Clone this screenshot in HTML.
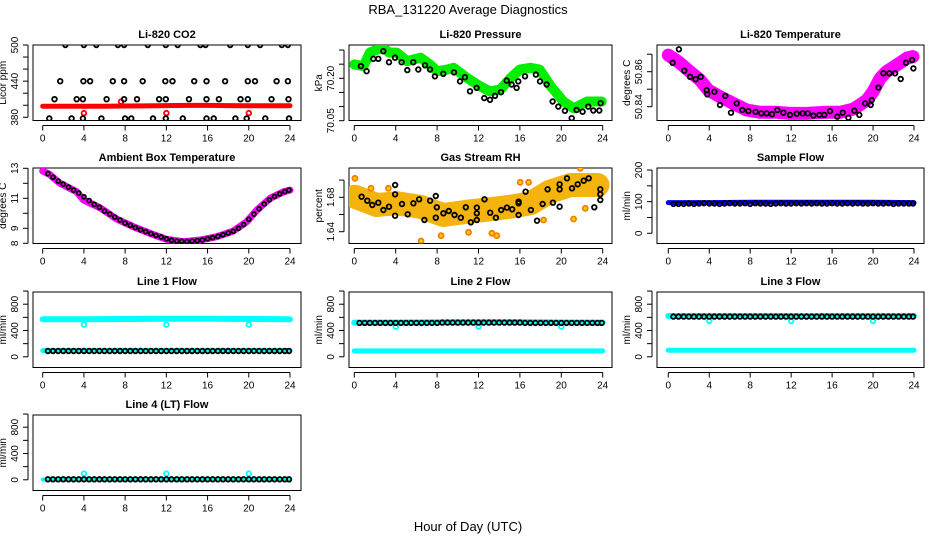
<!DOCTYPE html>
<html><head><meta charset="utf-8"><style>
html,body{margin:0;padding:0;background:#fff;}
svg{display:block;font-family:"Liberation Sans",Arial,sans-serif;}
</style></head><body>
<svg id="chart" width="936" height="540" viewBox="0 0 936 540" xmlns="http://www.w3.org/2000/svg">
<rect x="0" y="0" width="936" height="540" fill="#fff"/>
<text x="468" y="14" text-anchor="middle" font-size="13">RBA_131220  Average Diagnostics</text>
<text x="468" y="531" text-anchor="middle" font-size="13">Hour of Day (UTC)</text>
</svg>
<script>
// ---------- DATA ----------
const xTicks = [0,4,8,12,16,20,24];
// CO2
const co2RedHours = [0,2,4,6,8,10,12,14,16,18,20,22,24];
const co2RedValues = [398.5,398.5,398.5,398.5,398.8,399,399.5,399.8,399.8,399.5,399.3,399.3,399.3];
const co2RedOutHours = [4,12,20,7.6];
const co2RedOutValues = [387,387,387,406];
const co2BlackHours = [2.2,4.0,5.2,7.3,7.9,10.2,11.95,13.1,15.3,15.8,18.2,19.9,21.1,23.2,23.8,
 1.7,3.95,4.6,6.8,7.9,9.7,11.9,12.6,14.7,15.9,17.7,19.9,20.6,22.7,23.8,
 1.15,3.3,3.9,6.2,7.9,9.15,11.3,11.95,14.2,15.9,17.1,19.2,19.9,22.2,23.85,
 0.64,2.8,3.9,5.7,8.0,8.6,10.7,11.95,13.6,15.9,16.6,18.7,19.8,21.6,23.9];
const co2BlackValues = [500,500,500,500,500,500,500,500,500,500,500,500,500,500,500,
 440,440,440,440,440,440,440,440,440,440,440,440,440,440,440,
 410,410,410,410,410,410,410,410,410,410,410,410,410,410,410,
 378,378,378,378,378,378,378,378,378,378,378,378,378,378,378];
// Pressure
const presGreenHours = [0,0.9,1.5,2.7,3.4,4.1,5.1,6.4,7.3,8,9,9.6,10.9,12.2,13.1,14.1,15.1,16,17,17.9,19,20.2,21.2,22.5,23.9];
const presGreenValues = [70.249,70.243,70.291,70.309,70.291,70.291,70.261,70.273,70.249,70.225,70.231,70.237,70.201,70.171,70.154,70.160,70.201,70.231,70.237,70.231,70.171,70.118,70.094,70.118,70.118];
const presBlackHours = [0.64,1.19,1.84,2.32,2.80,3.35,3.93,4.57,5.12,5.70,6.18,6.83,7.31,7.79,8.60,9.63,10.21,10.69,11.18,11.82,12.56,13.11,13.59,14.17,14.72,15.2,15.68,15.85,16.49,17.55,17.94,18.58,19.16,19.71,20.35,21.0,21.48,22.06,22.61,23.09,23.67,23.8];
const presBlackValues = [70.243,70.225,70.269,70.269,70.296,70.257,70.273,70.257,70.229,70.257,70.231,70.246,70.231,70.207,70.216,70.221,70.189,70.204,70.154,70.166,70.130,70.124,70.138,70.151,70.192,70.178,70.166,70.189,70.207,70.213,70.189,70.178,70.118,70.100,70.085,70.059,70.088,70.082,70.100,70.086,70.086,70.112];
// Li-820 temperature
const tempMagHours = [0,0.98,2.12,3.1,3.9,5.05,6.35,7.65,8.96,10.6,11.9,13.5,15.5,16.8,18.1,19.4,20.0,20.7,21.3,22.3,23.3,23.9];
const tempMagValues = [50.8695,50.8657,50.86,50.8553,50.8495,50.8457,50.8419,50.8381,50.8368,50.8368,50.8362,50.8362,50.8368,50.8368,50.8387,50.8438,50.8486,50.8562,50.86,50.8638,50.8677,50.8686];
const tempBlackHours = [0.42,1.04,1.56,2.12,2.67,3.16,3.75,3.81,4.50,5.05,5.57,6.12,6.68,7.23,7.82,8.53,9.09,9.61,10.13,10.65,11.24,11.89,12.54,13.13,13.62,14.17,14.76,15.24,15.80,16.51,17.04,17.59,18.18,18.66,19.22,19.77,19.87,20.52,21.01,21.60,22.15,22.70,23.22,23.81,23.94];
const tempBlackValues = [50.8651,50.8728,50.8606,50.8571,50.8557,50.8571,50.8495,50.8471,50.8486,50.841,50.8461,50.8366,50.8419,50.8381,50.8375,50.8371,50.8362,50.8362,50.8357,50.8381,50.8366,50.8353,50.836,50.8362,50.8362,50.8349,50.8353,50.8353,50.8375,50.8343,50.8366,50.8337,50.8377,50.8353,50.8419,50.841,50.8438,50.8509,50.8591,50.8591,50.8591,50.8558,50.8651,50.8667,50.8619];
// Ambient box temperature
const ambMagHours = [0,0.65,1.68,3.3,3.95,5.57,7.18,8.8,10.4,12.0,13.66,15.3,16.9,18.5,19.8,20.8,22.07,23.4,24];
const ambMagValues = [12.82,12.6,12.0,11.44,10.89,10.37,9.62,9.11,8.67,8.27,8.11,8.22,8.44,8.82,9.44,10.22,11.0,11.44,11.55];
const halfHours = [0.5,1,1.5,2,2.5,3,3.5,4,4.5,5,5.5,6,6.5,7,7.5,8,8.5,9,9.5,10,10.5,11,11.5,12,12.5,13,13.5,14,14.5,15,15.5,16,16.5,17,17.5,18,18.5,19,19.5,20,20.5,21,21.5,22,22.5,23,23.5,23.9];
const ambBlackValues = [12.65,12.4,12.15,11.95,11.75,11.55,11.35,11.1,10.85,10.6,10.4,10.15,9.95,9.75,9.55,9.35,9.2,9.05,8.9,8.78,8.65,8.52,8.42,8.3,8.2,8.15,8.13,8.12,8.15,8.18,8.22,8.3,8.38,8.46,8.57,8.68,8.8,9.0,9.25,9.6,9.95,10.3,10.62,10.9,11.12,11.3,11.45,11.55];
// Gas stream RH
const rhBandHours = [0.06,2.16,4.1,6.35,8.6,10.9,12.5,15.1,17,18.9,20.9,23.5];
const rhBandValues = [1.6807,1.671,1.673,1.6691,1.6594,1.6633,1.6652,1.6691,1.673,1.6865,1.6943,1.6943];
const rhOutHours = [0.06,1.61,3.29,6.45,8.39,11.03,13.29,13.77,16.03,16.84,18.29,21.19,21.84,22.32];
const rhOutValues = [1.7021,1.6905,1.6905,1.6292,1.6353,1.6393,1.6381,1.6353,1.6974,1.6974,1.6536,1.6548,1.7137,1.6672];
const rhBlackHours = [0.71,1.26,1.74,2.32,2.81,3.35,3.94,3.94,3.94,4.61,5.16,5.71,6.26,6.77,7.32,7.87,7.87,7.97,8.61,9.13,9.68,10.29,10.77,11.26,11.84,11.84,11.84,12.58,13.13,13.68,14.19,14.74,15.26,15.87,15.87,15.87,16.55,17.06,17.65,18.19,18.68,19.19,19.84,19.84,19.84,20.55,21.03,21.58,22.16,22.65,23.19,23.77,23.77,23.77];
const rhBlackValues = [1.6807,1.676,1.671,1.6737,1.6652,1.6691,1.6943,1.6835,1.6586,1.6722,1.6602,1.673,1.6777,1.6536,1.676,1.6815,1.6563,1.6684,1.6614,1.6641,1.6594,1.6563,1.6684,1.6509,1.668,1.6614,1.6536,1.6777,1.6621,1.6563,1.6652,1.668,1.666,1.673,1.6749,1.6594,1.6865,1.6652,1.6528,1.6722,1.6893,1.6737,1.6691,1.6893,1.6951,1.7021,1.6905,1.6951,1.6993,1.7021,1.6684,1.6893,1.6835,1.6769];
// Sample flow
const bandHours = [0,4,8,12,16,20,24];
const sampleBlueValues = [97,97,98,98,98,98,97];
const sampleBlackValues = [93,93,93,94,93,94,95,94,94,93,94,95,94,94,95,93,95,94,94,93,94,95,94,94,95,94,95,94,95,94,94,95,94,94,95,94,95,94,94,95,94,94,95,93,94,94,94,94];
// Line flows
const line1CyanHi = [570,570,575,578,580,575,570];
const line1CyanLo = [95,95,95,95,95,95,95];
const line1Black = [88,88,88,88,88,88,88,88,88,88,88,88,88,88,88,88,88,88,88,88,88,88,88,88,88,88,88,88,88,88,88,88,88,88,88,88,88,88,88,88,88,88,88,88,88,88,88,88];
const line2CyanHi = [520,520,525,528,528,522,520];
const line2CyanLo = [90,90,90,90,90,90,90];
const line2Black = [515,515,515,515,515,515,515,515,515,515,515,515,515,515,515,515,520,520,520,520,520,520,520,520,520,520,520,520,520,520,520,520,515,515,515,515,515,515,515,515,515,515,515,515,515,515,515,515];
const line3CyanHi = [620,620,620,620,620,620,620];
const line3CyanLo = [100,100,100,100,100,100,100];
const line3Black = [612,612,612,612,612,612,612,612,612,612,612,612,612,612,612,612,612,612,612,612,612,612,612,612,612,612,612,612,612,612,612,612,612,612,612,612,612,612,612,612,612,612,612,612,612,612,612,612];
const line4CyanLo = [5,5,5,5,5,5,5];
const line4Black = [8,8,8,8,8,8,8,8,8,8,8,8,8,8,8,8,8,8,8,8,8,8,8,8,8,8,8,8,8,8,8,8,8,8,8,8,8,8,8,8,8,8,8,8,8,8,8,8];
const dipHours = [4,12,20];
const line1Dips = [490,490,490];
const line2Dips = [460,460,460];
const line3Dips = [545,545,545];
const line4Spikes = [95,95,95];

// ---------- LAYOUT ----------
const NS = 'http://www.w3.org/2000/svg';
const svg = document.getElementById('chart');
const cols = [{l:33,r:301,x0:42.7,x24:290},{l:349,r:612,x0:354.3,x24:602.7},{l:657,r:924,x0:668.3,x24:914}];
const rowTops = [45,168,292,415];
const BOXH = 75.5;
function mk(tag, attrs, parent){ const e=document.createElementNS(NS,tag); for(const k in attrs) e.setAttribute(k,attrs[k]); (parent||svg).appendChild(e); return e; }

function makePanel(name, title, col, row, ref, yTicks, yLabels, yTitle){
  const c = cols[col], top = rowTops[row], bot = top+BOXH;
  const g = mk('g',{});
  
  
  const xs = h => c.x0 + (h/24)*(c.x24-c.x0);
  const k = (ref[3]-ref[1])/(ref[2]-ref[0]);
  const ys = v => ref[1] + (v-ref[0])*k;
  const clipId = 'clip-'+name;
  const cp = mk('clipPath',{id:clipId}, g); mk('rect',{x:c.l,y:top,width:c.r-c.l,height:BOXH},cp);
  const t = mk('text',{x:(c.l+c.r)/2,y:top-7,'text-anchor':'middle','font-size':'11','font-weight':'bold'},g);
  t.textContent = title;
  
  
  const box = mk('rect',{x:c.l,y:top,width:c.r-c.l,height:BOXH,fill:'none',stroke:'#000','stroke-width':'1'},g);
  
  
  const xa = mk('g',{},g);
  
  
  mk('line',{x1:xs(xTicks[0]),x2:xs(xTicks[xTicks.length-1]),y1:bot+5,y2:bot+5,stroke:'#000'},xa);
  xTicks.forEach(tv=>{
    mk('line',{x1:xs(tv),x2:xs(tv),y1:bot+5,y2:bot+10,stroke:'#000'},xa);
    const tl = mk('text',{x:xs(tv),y:bot+21,'text-anchor':'middle','font-size':'10'},xa);
    tl.textContent = tv;
    
    
  });
  const ya = mk('g',{},g);
  
  
  const yAxisX = c.l-5;
  mk('line',{x1:yAxisX,x2:yAxisX,y1:ys(yTicks[0]),y2:ys(yTicks[yTicks.length-1]),stroke:'#000'},ya);
  yTicks.forEach(tv=>{
    mk('line',{x1:yAxisX-5,x2:yAxisX,y1:ys(tv),y2:ys(tv),stroke:'#000'},ya);
  });
  yLabels.forEach(lv=>{
    const yy = ys(Number(lv));
    const lx = yAxisX-10;
    const tl = mk('text',{x:lx,y:yy,'text-anchor':'middle','font-size':'10',transform:'rotate(-90 '+lx+' '+yy+')'},ya);
    tl.textContent = lv;
    
    
  });
  const tx = c.l-27, ty = (top+bot)/2;
  const yt = mk('text',{x:tx,y:ty,'text-anchor':'middle','font-size':'10',transform:'rotate(-90 '+tx+' '+ty+')'},ya);
  yt.textContent = yTitle;
  
  
  const data = mk('g',{'clip-path':'url(#'+clipId+')'},g);
  return {xs, ys, g:data};
}
function band(p, hours, vals, color, w, nm, op){
  const pts = hours.map((h,i)=>p.xs(h).toFixed(1)+','+p.ys(vals[i]).toFixed(1)).join(' ');
  const e = mk('polyline',{points:pts,fill:'none',stroke:color,'stroke-width':w,'stroke-linejoin':'round','stroke-linecap':'round',opacity:op||1},p.g);
  
  
}
function pts(p, hours, vals, color, nm, r, fill){
  hours.forEach((h,i)=>{
    const e = mk('circle',{cx:p.xs(h).toFixed(1),cy:p.ys(vals[i]).toFixed(1),r:r||2.3,fill:fill||'none',stroke:color,'stroke-width':'1.8'},p.g);
    
    
  });
}

let p = makePanel('co2','Li-820 CO2',0,0,[500,45,380,117.3],[380,400,420,440,460,480,500],['380','440','500'],'Licor ppm');
band(p, co2RedHours, co2RedValues, '#ff0000', 5, 'co2-red-series');
pts(p, co2RedOutHours, co2RedOutValues, '#ff0000', 'co2-red-point');
pts(p, co2BlackHours, co2BlackValues, '#000', 'co2-black-point');
p = makePanel('pressure','Li-820 Pressure',1,0,[70.05,120.7,70.20,78.3],[70.05,70.10,70.15,70.20,70.25,70.30],['70.05','70.20'],'kPa');
band(p, presGreenHours, presGreenValues, '#00ee00', 10, 'pressure-green-series');
pts(p, presBlackHours, presBlackValues, '#000', 'pressure-black-point');
p = makePanel('li820-temp','Li-820 Temperature',2,0,[50.84,106.7,50.86,71.7],[50.84,50.85,50.86,50.87],['50.84','50.86'],'degrees C');
band(p, tempMagHours, tempMagValues, '#ff00ff', 13, 'li820-temp-magenta-series');
pts(p, tempBlackHours, tempBlackValues, '#000', 'li820-temp-black-point');
p = makePanel('ambient','Ambient Box Temperature',0,1,[13,168.3,8,243.3],[8,9,10,11,12,13],['8','9','11','13'],'degrees C');
band(p, ambMagHours, ambMagValues, '#ff00ff', 7, 'ambient-magenta-series');
pts(p, halfHours, ambBlackValues, '#000', 'ambient-black-point', 2);
p = makePanel('rh','Gas Stream RH',1,1,[1.68,197.3,1.64,231.7],[1.64,1.66,1.68,1.70],['1.64','1.68'],'percent');
band(p, rhBandHours, rhBandValues, '#f4b000', 24, 'rh-orange-series', 0.95);
pts(p, rhOutHours, rhOutValues, '#f08000', 'rh-orange-point', 2.5, '#ffd000');
pts(p, rhBlackHours, rhBlackValues, '#000', 'rh-black-point');
p = makePanel('sample-flow','Sample Flow',2,1,[0,233.3,200,170],[0,50,100,150,200],['0','100','200'],'ml/min');
band(p, bandHours, sampleBlueValues, '#0000ff', 5, 'sample-flow-blue-series');
pts(p, halfHours, sampleBlackValues, '#000', 'sample-flow-black-point');
const lineYT = [0,200,400,600,800,1000];
const lineYL = ['0','400','800'];
function lineRef(row){ const t=rowTops[row]; return [0,t+64.8,400,t+38.5]; }
p = makePanel('line1','Line 1 Flow',0,2,lineRef(2),lineYT,lineYL,'ml/min');
band(p, bandHours, line1CyanHi, '#00ffff', 6, 'line1-cyan-high-series');
band(p, bandHours, line1CyanLo, '#00ffff', 5, 'line1-cyan-low-series');
pts(p, dipHours, line1Dips, '#00ffff', 'line1-cyan-dip');
pts(p, halfHours, line1Black, '#000', 'line1-black-point');
p = makePanel('line2','Line 2 Flow',1,2,lineRef(2),lineYT,lineYL,'ml/min');
band(p, bandHours, line2CyanHi, '#00ffff', 6, 'line2-cyan-high-series');
band(p, bandHours, line2CyanLo, '#00ffff', 5, 'line2-cyan-low-series');
pts(p, dipHours, line2Dips, '#00ffff', 'line2-cyan-dip');
pts(p, halfHours, line2Black, '#000', 'line2-black-point');
p = makePanel('line3','Line 3 Flow',2,2,lineRef(2),lineYT,lineYL,'ml/min');
band(p, bandHours, line3CyanHi, '#00ffff', 6, 'line3-cyan-high-series');
band(p, bandHours, line3CyanLo, '#00ffff', 5, 'line3-cyan-low-series');
pts(p, dipHours, line3Dips, '#00ffff', 'line3-cyan-dip');
pts(p, halfHours, line3Black, '#000', 'line3-black-point');
p = makePanel('line4','Line 4 (LT) Flow',0,3,lineRef(3),lineYT,lineYL,'ml/min');
band(p, bandHours, line4CyanLo, '#00ffff', 4, 'line4-cyan-series');
pts(p, dipHours, line4Spikes, '#00ffff', 'line4-cyan-spike');
pts(p, halfHours, line4Black, '#000', 'line4-black-point');
</script>
</body></html>
